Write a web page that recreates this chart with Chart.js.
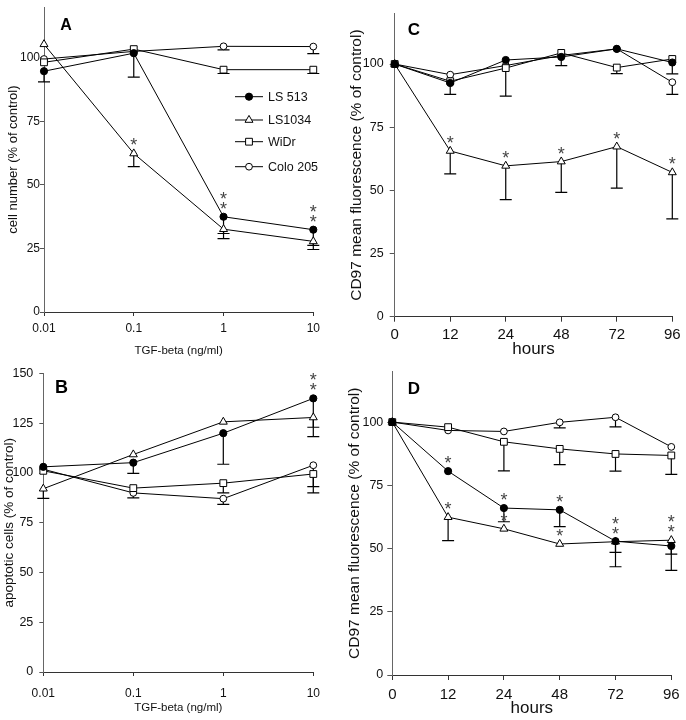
<!DOCTYPE html>
<html><head><meta charset="utf-8">
<script src="https://cdn.jsdelivr.net/npm/chart.js@4.4.0/dist/chart.umd.min.js"></script>
<style>
html,body{margin:0;padding:0;background:#fff;}
#wrap{position:relative;width:686px;height:720px;overflow:hidden;background:#fff;}
canvas{position:absolute;}
</style></head><body>
<div id="wrap">
<canvas id="cA" width="343" height="360" style="left:0;top:0;width:343px;height:360px"></canvas>
<canvas id="cC" width="343" height="360" style="left:343px;top:0;width:343px;height:360px"></canvas>
<canvas id="cB" width="343" height="360" style="left:0;top:360px;width:343px;height:360px"></canvas>
<canvas id="cD" width="343" height="360" style="left:343px;top:360px;width:343px;height:360px"></canvas>
</div>
<script>
// ---- categories / tick labels ----
const doseLabels = ['0.01', '0.1', '1', '10'];
const hourLabels = ['0', '12', '24', '48', '72', '96'];
const yTicksA = [0, 25, 50, 75, 100];
const yTicksB = [0, 25, 50, 75, 100, 125, 150];
const yTicksCD = [0, 25, 50, 75, 100];
const seriesNames = ['LS 513', 'LS1034', 'WiDr', 'Colo 205'];

// ---- Panel A: cell number (% of control) ----
const A_LS513 = [94.8, 101.9, 37.5, 32.4];
const A_LS513_err = [4.2, 9.4, 6.6, 6.2];
const A_LS1034 = [105.4, 62.4, 32.6, 27.8];
const A_LS1034_err = [null, 5.2, 3.7, 3.2];
const A_WiDr = [98.3, 103.5, 95.4, 95.4];
const A_WiDr_err = [null, null, 1.5, 1.5];
const A_Colo = [99.6, 102.6, 104.6, 104.5];
const A_Colo_err = [null, null, 1.4, 2.8];
const A_LS513_stars = [0, 0, 2, 2];
const A_LS1034_stars = [0, 1, 0, 0];

// ---- Panel B: apoptotic cells (% of control) ----
const B_LS513 = [103.1, 105.2, 120.0, 137.5];
const B_LS513_err = [null, 5.4, 15.6, 14.5];
const B_LS1034 = [92.1, 109.3, 125.7, 127.9];
const B_LS1034_err = [4.9, null, null, 9.6];
const B_WiDr = [101.1, 92.4, 94.9, 99.5];
const B_WiDr_err = [null, null, 4.9, 9.5];
const B_Colo = [101.9, 90.0, 87.1, 103.9];
const B_Colo_err = [null, 2.5, 2.9, 10.7];
const B_LS513_stars = [0, 0, 0, 2];

// ---- Panel C: CD97 mean fluorescence, hours ----
const C_LS513 = [100, 92.5, 101.6, 102.8, 106.0, 100.6];
const C_LS513_err = [null, 4.5, null, 3.4, null, null];
const C_LS1034 = [100, 65.6, 59.7, 61.4, 67.3, 57.1];
const C_LS1034_err = [null, 9.1, 13.4, 12.2, 16.4, 18.4];
const C_WiDr = [100, 93.2, 98.4, 104.4, 98.6, 102.0];
const C_WiDr_err = [null, null, 11.1, null, 2.4, 5.9];
const C_Colo = [100, 95.8, 99.4, 103.4, 106.0, 92.8];
const C_Colo_err = [null, null, null, null, null, 4.8];
const C_LS1034_stars = [0, 1, 1, 1, 1, 1];

// ---- Panel D: CD97 mean fluorescence, hours ----
const D_LS513 = [100, 80.6, 66.0, 65.3, 52.9, 51.0];
const D_LS513_err = [null, null, 5.4, 6.6, 10.1, 9.6];
const D_LS1034 = [100, 62.4, 57.8, 51.8, 52.7, 53.3];
const D_LS1034_err = [null, 9.3, null, null, 4.2, 5.5];
const D_WiDr = [100, 98.0, 92.2, 89.4, 87.4, 86.8];
const D_WiDr_err = [null, null, 11.5, 6.2, 6.8, 7.5];
const D_Colo = [100, 96.7, 96.3, 99.9, 101.9, 90.2];
const D_Colo_err = [null, null, null, 2.2, 3.8, null];
const D_LS513_stars = [0, 1, 1, 1, 0, 0];
const D_LS1034_stars = [0, 1, 1, 1, 2, 2];

Chart.defaults.font.family = "'Liberation Sans', Arial, sans-serif";
Chart.defaults.color = '#111';

const markerStyles = [
  {pointStyle: 'circle', radius: 3.6, fill: '#000'},
  {pointStyle: 'triangle', radius: 4.6, fill: '#fff'},
  {pointStyle: 'rect', radius: 4.8, fill: '#fff'},
  {pointStyle: 'circle', radius: 3.4, fill: '#fff'}
];

function drawMarker(ctx, style, x, y) {
  ctx.save();
  ctx.fillStyle = style.fill; ctx.strokeStyle = '#000'; ctx.lineWidth = 1;
  ctx.beginPath();
  const r = style.radius;
  if (style.pointStyle === 'circle') {
    ctx.arc(x, y, r, 0, Math.PI * 2);
  } else if (style.pointStyle === 'triangle') {
    for (let k = 0; k < 3; k++) {
      const a = -Math.PI / 2 + k * 2 * Math.PI / 3;
      const px = x + r * Math.cos(a), py = y + r * Math.sin(a);
      if (k === 0) ctx.moveTo(px, py); else ctx.lineTo(px, py);
    }
    ctx.closePath();
  } else {
    const s = r * Math.SQRT1_2;
    ctx.rect(x - s, y - s, 2 * s, 2 * s);
  }
  ctx.fill(); ctx.stroke();
  ctx.restore();
}

const extras = {
  id: 'extras',
  beforeDatasetsDraw(chart) {
    const ctx = chart.ctx, ys = chart.scales.y;
    chart.data.datasets.forEach((ds, i) => {
      const meta = chart.getDatasetMeta(i);
      (ds.errs || []).forEach((e, j) => {
        if (e == null) return;
        const x = meta.data[j].x;
        const y0 = ys.getPixelForValue(ds.data[j]);
        const y1 = ys.getPixelForValue(ds.data[j] - e);
        ctx.save();
        ctx.strokeStyle = '#000'; ctx.lineWidth = 1.2;
        ctx.beginPath();
        ctx.moveTo(x, y0); ctx.lineTo(x, y1);
        ctx.moveTo(x - 6, y1); ctx.lineTo(x + 6, y1);
        ctx.stroke();
        ctx.restore();
      });
    });
  },
  afterDatasetsDraw(chart, args, o) {
    const ctx = chart.ctx;
    // asterisks
    chart.data.datasets.forEach((ds, i) => {
      const meta = chart.getDatasetMeta(i);
      (ds.stars || []).forEach((n, j) => {
        for (let k = 0; k < n; k++) {
          const pt = meta.data[j];
          const cy = pt.y - 12.5 - 10 * k;
          ctx.save();
          ctx.fillStyle = '#444';
          ctx.font = "18px 'Liberation Sans', Arial, sans-serif";
          ctx.textAlign = 'center'; ctx.textBaseline = 'alphabetic';
          ctx.fillText('*', pt.x, cy + 0.58 * 18);
          ctx.restore();
        }
      });
    });
    // panel letter
    if (o.letter) {
      ctx.save();
      ctx.fillStyle = '#000';
      ctx.font = "bold " + o.letterSize + "px 'Liberation Sans', Arial, sans-serif";
      ctx.textAlign = 'center'; ctx.textBaseline = 'middle';
      ctx.fillText(o.letter, o.letterX, o.letterY);
      ctx.restore();
    }
    // legend
    if (o.legend) {
      const L = o.legend;
      seriesNames.forEach((name, i) => {
        const y = L.ys[i];
        ctx.save();
        ctx.strokeStyle = '#000'; ctx.lineWidth = 1;
        ctx.beginPath(); ctx.moveTo(L.x0, y); ctx.lineTo(L.x1, y); ctx.stroke();
        ctx.restore();
        drawMarker(ctx, markerStyles[i], (L.x0 + L.x1) / 2, y);
        ctx.save();
        ctx.fillStyle = '#111';
        ctx.font = "12.5px 'Liberation Sans', Arial, sans-serif";
        ctx.textAlign = 'left'; ctx.textBaseline = 'middle';
        ctx.fillText(name, L.tx, y + 0.5);
        ctx.restore();
      });
    }
  }
};

function mkDatasets(vals, errs, stars) {
  return vals.map((v, i) => ({
    label: seriesNames[i],
    data: v,
    errs: errs[i],
    stars: stars[i],
    borderColor: '#000',
    borderWidth: 1,
    tension: 0,
    pointStyle: markerStyles[i].pointStyle,
    pointRadius: markerStyles[i].radius,
    pointBackgroundColor: markerStyles[i].fill,
    pointBorderColor: '#000',
    pointBorderWidth: 1,
    fill: false
  }));
}

function makePanel(id, cfg) {
  new Chart(document.getElementById(id), {
    type: 'line',
    data: {labels: cfg.labels, datasets: mkDatasets(cfg.vals, cfg.errs, cfg.stars)},
    options: {
      responsive: false, animation: false, devicePixelRatio: 1,
      events: [],
      layout: {padding: {top: cfg.padTop, right: cfg.padRight, left: 0, bottom: 0}},
      plugins: {
        legend: {display: false}, tooltip: {enabled: false},
        extras: cfg.extras
      },
      scales: {
        x: {
          type: 'category', offset: false,
          grid: {display: true, drawOnChartArea: false, drawTicks: true, tickLength: cfg.xTick, color: '#333'},
          border: {display: true, color: '#333', width: 1},
          ticks: {color: '#111', font: {size: cfg.xTickFont}, padding: cfg.xTickPad, maxRotation: 0, autoSkip: false},
          title: {display: true, text: cfg.xTitle, color: '#111', font: {size: cfg.xTitleFont, lineHeight: 1.2}, padding: {top: 0, bottom: cfg.xTitlePad}},
          afterFit: s => { s.height = cfg.xH; }
        },
        y: {
          min: 0, max: cfg.yMax,
          grid: {display: true, drawOnChartArea: false, drawTicks: true, tickLength: cfg.yTick, color: '#555'},
          border: {display: true, color: '#666', width: 1},
          ticks: {color: '#111', font: {size: cfg.yTickFont}, padding: cfg.yTickPad},
          afterBuildTicks: s => { s.ticks = cfg.yTicks.map(v => ({value: v})); },
          title: {display: true, text: cfg.yTitle, color: '#111', font: {size: cfg.yTitleFont, lineHeight: 1.2}, padding: {top: cfg.yTitlePad, bottom: 0}},
          afterFit: s => { s.width = cfg.yW; }
        }
      }
    },
    plugins: [extras]
  });
}

makePanel('cA', {
  labels: doseLabels,
  vals: [A_LS513, A_LS1034, A_WiDr, A_Colo],
  errs: [A_LS513_err, A_LS1034_err, A_WiDr_err, A_Colo_err],
  stars: [A_LS513_stars, A_LS1034_stars, null, null],
  padTop: 1.6, padRight: 29.7, xH: 48, yW: 44, yMax: 120, yTicks: yTicksA,
  xTick: 4, xTickFont: 12, xTickPad: 5, xTitle: 'TGF-beta (ng/ml)', xTitleFont: 11.5, xTitlePad: 2,
  yTick: 4, yTickFont: 12, yTickPad: 0, yTitle: 'cell number (% of control)', yTitleFont: 13, yTitlePad: 6,
  extras: {letter: 'A', letterSize: 16, letterX: 66, letterY: 26,
    legend: {x0: 235, x1: 263, tx: 268, ys: [96.7, 120, 141.7, 166.7]}}
});

makePanel('cB', {
  labels: doseLabels,
  vals: [B_LS513, B_LS1034, B_WiDr, B_Colo],
  errs: [B_LS513_err, B_LS1034_err, B_WiDr_err, B_Colo_err],
  stars: [B_LS513_stars, null, null, null],
  padTop: 7.3, padRight: 29.7, xH: 48, yW: 43.3, yMax: 150, yTicks: yTicksB,
  xTick: 4, xTickFont: 12, xTickPad: 10, xTitle: 'TGF-beta (ng/ml)', xTitleFont: 11.5, xTitlePad: 5,
  yTick: 4, yTickFont: 12.5, yTickPad: 6, yTitle: 'apoptotic cells (% of control)', yTitleFont: 13.5, yTitlePad: 1.5,
  extras: {letter: 'B', letterSize: 18, letterX: 61.5, letterY: 28}
});

makePanel('cC', {
  labels: hourLabels,
  vals: [C_LS513, C_LS1034, C_WiDr, C_Colo],
  errs: [C_LS513_err, C_LS1034_err, C_WiDr_err, C_Colo_err],
  stars: [null, C_LS1034_stars, null, null],
  padTop: 11.9, padRight: 13.7, xH: 43.3, yW: 51.7, yMax: 120, yTicks: yTicksCD,
  xTick: 5, xTickFont: 15, xTickPad: 4.3, xTitle: 'hours', xTitleFont: 17, xTitlePad: 0,
  yTick: 5, yTickFont: 12.5, yTickPad: 6, yTitle: 'CD97 mean fluorescence (% of control)', yTitleFont: 15.5, yTitlePad: 4.4,
  extras: {letter: 'C', letterSize: 17, letterX: 71, letterY: 30.5}
});

makePanel('cD', {
  labels: hourLabels,
  vals: [D_LS513, D_LS1034, D_WiDr, D_Colo],
  errs: [D_LS513_err, D_LS1034_err, D_WiDr_err, D_Colo_err],
  stars: [D_LS513_stars, D_LS1034_stars, null, null],
  padTop: 3.8, padRight: 14.7, xH: 45, yW: 49.3, yMax: 120, yTicks: yTicksCD,
  xTick: 5, xTickFont: 15, xTickPad: 6, xTitle: 'hours', xTitleFont: 17, xTitlePad: 1,
  yTick: 5, yTickFont: 12.5, yTickPad: 4, yTitle: 'CD97 mean fluorescence (% of control)', yTitleFont: 15.5, yTitlePad: 2.4,
  extras: {letter: 'D', letterSize: 17, letterX: 71, letterY: 29}
});
</script>
</body></html>
